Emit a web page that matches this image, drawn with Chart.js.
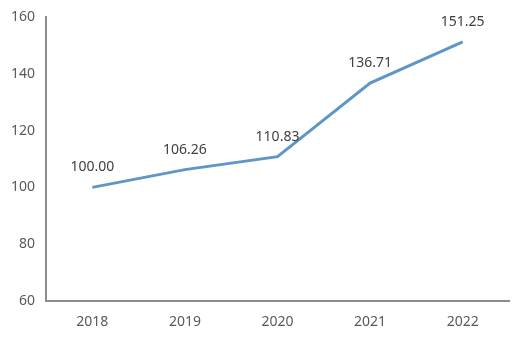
<!DOCTYPE html>
<html>
<head>
<meta charset="utf-8">
<script src="https://cdn.jsdelivr.net/npm/chart.js@4/dist/chart.umd.min.js"></script>
<style>
	html, body { margin: 0; padding: 0; background: #fff; }
	#wrap { width: 524px; height: 343px; }
</style>
</head>
<body>
<div id="wrap"><canvas id="chart"></canvas></div>
<script>
'use strict';

const years = ['2018', '2019', '2020', '2021', '2022'];
const values = [100.00, 106.26, 110.83, 136.71, 151.25];
const yTicks = [60, 80, 100, 120, 140, 160];

const FONT = '"Noto Sans", "Open Sans", sans-serif';

// value labels drawn above each point
const pointLabels = {
	id: 'pointLabels',
	afterDatasetsDraw(chart) {
		let ctx = chart.ctx;
		let meta = chart.getDatasetMeta(0);
		ctx.save();
		ctx.font = '14px ' + FONT;
		ctx.fillStyle = '#404040';
		ctx.textAlign = 'center';
		ctx.textBaseline = 'middle';
		meta.data.forEach((pt, ix) => {
			ctx.fillText(values[ix].toFixed(2), pt.x, pt.y - 20);
		});
		ctx.restore();
	}
};

new Chart(document.getElementById('chart'), {
	type: 'line',
	data: {
		labels: years,
		datasets: [{
			data: values,
			borderColor: '#5f96c8',
			borderWidth: 3,
			pointRadius: 0,
			tension: 0,
			fill: false
		}]
	},
	plugins: [pointLabels],
	options: {
		responsive: true,
		maintainAspectRatio: false,
		animation: false,
		layout: { padding: { top: 17, right: 15, left: 0, bottom: 0 } },
		plugins: {
			legend: { display: false },
			tooltip: { enabled: false }
		},
		scales: {
			x: {
				offset: true,
				grid: { display: false },
				border: { display: true, color: '#8c8c8c', width: 2 },
				ticks: { color: '#595959', font: { size: 14, family: FONT }, padding: 5 },
				afterFit: axis => { axis.height = 42; }
			},
			y: {
				min: yTicks[0],
				max: yTicks[yTicks.length - 1],
				grid: { display: false },
				border: { display: true, color: '#8c8c8c', width: 2 },
				afterBuildTicks: axis => { axis.ticks = yTicks.map(v => ({value: v})); },
				ticks: { color: '#595959', font: { size: 14, family: FONT }, padding: 3 },
				afterFit: axis => { axis.width = 46; }
			}
		}
	}
});
</script>
</body>
</html>
